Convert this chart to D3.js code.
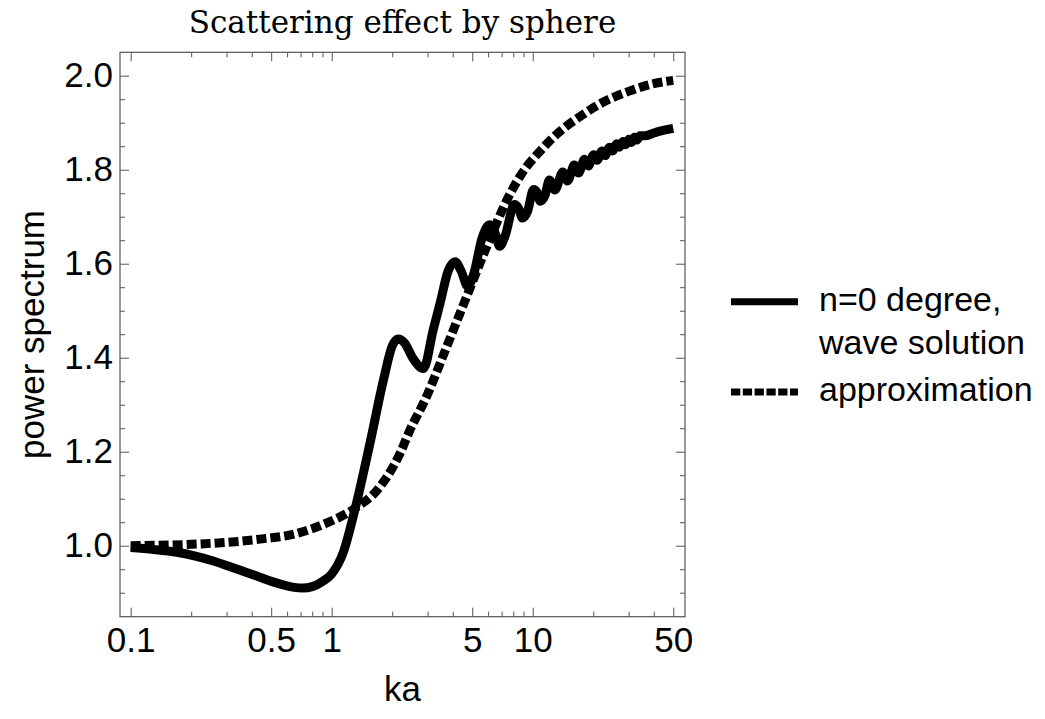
<!DOCTYPE html>
<html>
<head>
<meta charset="utf-8">
<script src="https://cdn.jsdelivr.net/npm/d3@7"></script>
<style>
    html, body { margin: 0; padding: 0; background: #fff; }
    svg { display: block; }
</style>
</head>
<body>
<div id="chart"></div>
<script>
// values: [ka, power]
var waveSolution = [
    [0.1, 0.996], [0.13, 0.992], [0.17, 0.986], [0.21, 0.978], [0.25, 0.969],
    [0.3, 0.958], [0.39, 0.941], [0.53, 0.921], [0.64, 0.912], [0.72, 0.910],
    [0.8, 0.913], [0.9, 0.924], [1.0, 0.94], [1.14, 0.985], [1.31, 1.08],
    [1.55, 1.218], [1.81, 1.353], [2.0, 1.425], [2.14, 1.44], [2.3, 1.432],
    [2.55, 1.397], [2.86, 1.377], [3.2, 1.46], [3.46, 1.516], [3.8, 1.585],
    [4.11, 1.604], [4.4, 1.585], [4.75, 1.552], [5.1, 1.58], [5.6, 1.655],
    [6.1, 1.683], [6.5, 1.665], [6.85, 1.637], [7.3, 1.66], [8.1, 1.726],
    [8.5, 1.718], [8.9, 1.697], [9.4, 1.71], [10.1, 1.758], [10.5, 1.752],
    [10.9, 1.733], [11.5, 1.745], [12.1, 1.778], [12.9, 1.757], [14.1, 1.795],
    [14.9, 1.776], [16.1, 1.81], [16.9, 1.793], [18.1, 1.822], [18.9, 1.808],
    [20.1, 1.832], [20.9, 1.82], [22.1, 1.84], [22.9, 1.83], [24.1, 1.848],
    [25, 1.84], [26.1, 1.855], [27, 1.848], [28.1, 1.86], [29, 1.853],
    [30.1, 1.865], [31, 1.858], [32.1, 1.869], [33, 1.863], [34.1, 1.872],
    [36, 1.872], [40, 1.878], [45, 1.884], [50, 1.888]
];

var approximation = [
    [0.1, 1.0], [0.25, 1.005], [0.44, 1.014], [0.67, 1.026], [0.94, 1.048],
    [1.31, 1.08], [1.68, 1.118], [2.19, 1.197], [2.45, 1.246], [2.91, 1.31],
    [3.73, 1.423], [4.69, 1.53], [5.9, 1.636], [7.74, 1.75], [8.83, 1.792],
    [10.9, 1.84], [13.7, 1.882], [17.3, 1.914], [22.5, 1.944], [31.6, 1.97],
    [40, 1.983], [50, 1.99]
];

var xMajorTicks = [0.1, 0.5, 1, 5, 10, 50];
var xMinorTicks = [0.2, 0.3, 0.4, 0.6, 0.7, 0.8, 0.9, 2, 3, 4, 6, 7, 8, 9, 20, 30, 40];
var yMajorTicks = [1.0, 1.2, 1.4, 1.6, 1.8, 2.0];
var yMinorTicks = [0.9, 0.95, 1.05, 1.1, 1.15, 1.25, 1.3, 1.35, 1.45, 1.5, 1.55,
    1.65, 1.7, 1.75, 1.85, 1.9, 1.95];

var legendLabels = [['n=0 degree,', 'wave solution'], ['approximation']];

(function () {
    'use strict';

    var width = 1045;
    var height = 719;
    var frame = { left: 120, right: 685, top: 52.3, bottom: 616.7 };
    var frameColor = '#555';
    var fontSans = '"Liberation Sans", Arial, sans-serif';
    var tickFont = '35px';

    var svg = d3.select('#chart').append('svg')
        .attr('width', width)
        .attr('height', height);

    var x = d3.scaleLog()
        .domain([0.0885, 57.2])
        .range([frame.left, frame.right]);

    var y = d3.scaleLinear()
        .domain([0.849, 2.0498])
        .range([frame.bottom, frame.top]);

    drawFrame();
    drawCurves();
    drawLabels();
    drawLegend();

    function drawFrame() {
        var g = svg.append('g');

        g.append('rect')
            .attr('x', frame.left)
            .attr('y', frame.top)
            .attr('width', frame.right - frame.left)
            .attr('height', frame.bottom - frame.top)
            .style('fill', 'none')
            .style('stroke', frameColor)
            .style('stroke-width', 1.2);

        addTicks(g, d3.axisBottom(x), frame.bottom, xMajorTicks, 9, 10, true, 'x');
        addTicks(g, d3.axisBottom(x), frame.bottom, xMinorTicks, 5, 0, false, 'x');
        addTicks(g, d3.axisTop(x), frame.top, xMajorTicks, 9, 0, false, 'x');
        addTicks(g, d3.axisTop(x), frame.top, xMinorTicks, 5, 0, false, 'x');
        addTicks(g, d3.axisLeft(y), frame.left, yMajorTicks, 9, 7, true, 'y');
        addTicks(g, d3.axisLeft(y), frame.left, yMinorTicks, 5, 0, false, 'y');
        addTicks(g, d3.axisRight(y), frame.right, yMajorTicks, 9, 0, false, 'y');
        addTicks(g, d3.axisRight(y), frame.right, yMinorTicks, 5, 0, false, 'y');
    }

    function addTicks(g, axis, offset, values, size, padding, labelled, dim) {
        // ticks point into the frame, labels sit outside it
        axis.tickValues(values)
            .tickSizeInner(-size)
            .tickSizeOuter(0)
            .tickPadding(padding)
            .tickFormat(labelled ? d3.format('') : function () { return ''; });
        if (dim === 'y' && labelled) {
            axis.tickFormat(d3.format('.1f'));
        }

        var a = g.append('g')
            .attr('transform', dim === 'x' ? 'translate(0,' + offset + ')' : 'translate(' + offset + ',0)')
            .call(axis);

        a.select('.domain').remove();
        a.selectAll('.tick line')
            .style('stroke', frameColor)
            .style('stroke-width', 1);
        a.selectAll('.tick text')
            .style('font-family', fontSans)
            .style('font-size', tickFont)
            .style('fill', '#000');
    }

    function drawCurves() {
        var line = d3.line()
            .x(function (d) { return x(d[0]); })
            .y(function (d) { return y(d[1]); })
            .curve(d3.curveMonotoneX);

        svg.append('path')
            .datum(approximation)
            .attr('d', line)
            .style('fill', 'none')
            .style('stroke', '#000')
            .style('stroke-width', 9)
            .style('stroke-dasharray', '10,4');

        svg.append('path')
            .datum(waveSolution)
            .attr('d', line)
            .style('fill', 'none')
            .style('stroke', '#000')
            .style('stroke-width', 9)
            .style('stroke-linejoin', 'round');
    }

    function drawLabels() {
        var midX = (frame.left + frame.right) / 2;

        svg.append('text')
            .attr('x', midX)
            .attr('y', 33)
            .attr('text-anchor', 'middle')
            .style('font-family', '"DejaVu Serif", serif')
            .style('font-size', '31px')
            .text('Scattering effect by sphere');

        svg.append('text')
            .attr('x', midX)
            .attr('y', 701)
            .attr('text-anchor', 'middle')
            .style('font-family', fontSans)
            .style('font-size', tickFont)
            .text('ka');

        svg.append('text')
            .attr('transform', 'translate(44,' + ((frame.top + frame.bottom) / 2) + ') rotate(-90)')
            .attr('text-anchor', 'middle')
            .style('font-family', fontSans)
            .style('font-size', tickFont)
            .text('power spectrum');
    }

    function drawLegend() {
        var g = svg.append('g');
        var legendFont = '34px';

        g.append('line')
            .attr('x1', 731).attr('x2', 798)
            .attr('y1', 301.7).attr('y2', 301.7)
            .style('stroke', '#000')
            .style('stroke-width', 7);

        g.append('line')
            .attr('x1', 731).attr('x2', 798)
            .attr('y1', 392).attr('y2', 392)
            .style('stroke', '#000')
            .style('stroke-width', 7)
            .style('stroke-dasharray', '9.3,2.5');

        var text = g.append('text')
            .style('font-family', fontSans)
            .style('font-size', legendFont);

        text.append('tspan').attr('x', 819).attr('y', 311).text(legendLabels[0][0]);
        text.append('tspan').attr('x', 819).attr('y', 354).text(legendLabels[0][1]);

        g.append('text')
            .attr('x', 819).attr('y', 401)
            .style('font-family', fontSans)
            .style('font-size', legendFont)
            .text(legendLabels[1][0]);
    }
})();
</script>
</body>
</html>
